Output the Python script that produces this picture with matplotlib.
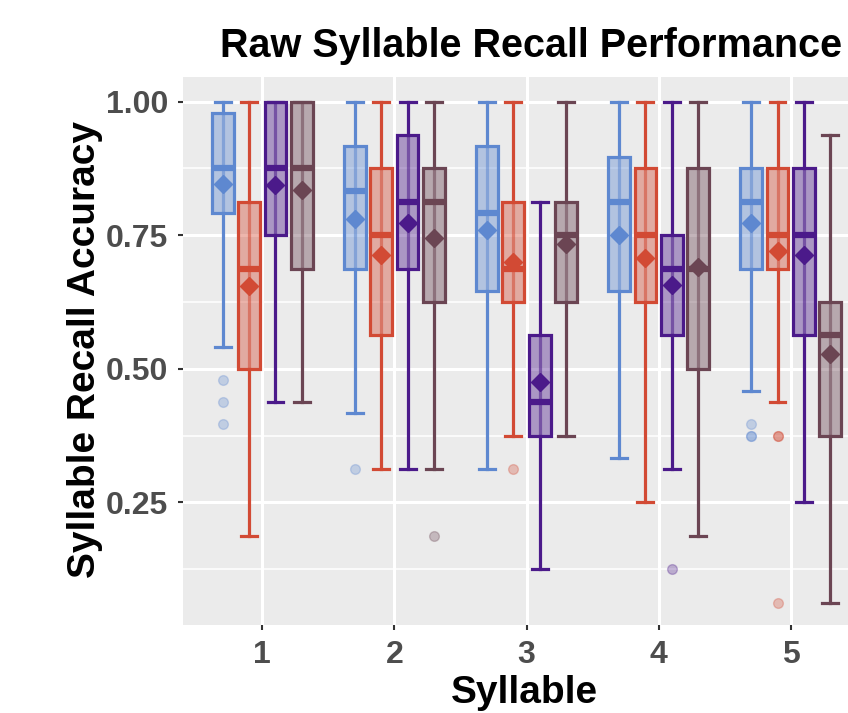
import matplotlib
matplotlib.use('Agg')
import matplotlib.pyplot as plt
from matplotlib.colors import to_rgba

plt.rcParams['font.family'] = ['Liberation Sans', 'DejaVu Sans']

syllables = [1, 2, 3, 4, 5]
group_colors = ['#5e88d0', '#d24a34', '#4b1a8a', '#6b4553']
offsets = [-0.3, -0.1, 0.1, 0.3]

# box statistics per group (one value per syllable)
blue_lo = [0.5417, 0.4167, 0.3125, 0.3333, 0.4583]
blue_q1 = [0.7917, 0.6875, 0.6458, 0.6458, 0.6875]
blue_med = [0.875, 0.8333, 0.7917, 0.8125, 0.8125]
blue_q3 = [0.9792, 0.9167, 0.9167, 0.8958, 0.875]
blue_hi = [1.0, 1.0, 1.0, 1.0, 1.0]
blue_mean = [0.846, 0.780, 0.760, 0.750, 0.773]
blue_out = [[0.479, 0.4375, 0.396], [0.3125], [], [], [0.396, 0.375, 0.375]]

red_lo = [0.1875, 0.3125, 0.375, 0.25, 0.4375]
red_q1 = [0.5, 0.5625, 0.625, 0.625, 0.6875]
red_med = [0.6875, 0.75, 0.6875, 0.75, 0.75]
red_q3 = [0.8125, 0.875, 0.8125, 0.875, 0.875]
red_hi = [1.0, 1.0, 1.0, 1.0, 1.0]
red_mean = [0.655, 0.712, 0.700, 0.708, 0.720]
red_out = [[], [], [0.3125], [], [0.375, 0.375, 0.0625]]

purple_lo = [0.4375, 0.3125, 0.125, 0.3125, 0.25]
purple_q1 = [0.75, 0.6875, 0.375, 0.5625, 0.5625]
purple_med = [0.875, 0.8125, 0.4375, 0.6875, 0.75]
purple_q3 = [1.0, 0.9375, 0.5625, 0.75, 0.875]
purple_hi = [1.0, 1.0, 0.8125, 1.0, 1.0]
purple_mean = [0.843, 0.772, 0.476, 0.656, 0.713]
purple_out = [[], [], [], [0.125], []]

brown_lo = [0.4375, 0.3125, 0.375, 0.1875, 0.0625]
brown_q1 = [0.6875, 0.625, 0.625, 0.5, 0.375]
brown_med = [0.875, 0.8125, 0.75, 0.6875, 0.5625]
brown_q3 = [1.0, 0.875, 0.8125, 0.875, 0.625]
brown_hi = [1.0, 1.0, 1.0, 1.0, 0.9375]
brown_mean = [0.835, 0.745, 0.733, 0.690, 0.527]
brown_out = [[], [0.1875], [], [], []]

groups = [
    (blue_lo, blue_q1, blue_med, blue_q3, blue_hi, blue_mean, blue_out),
    (red_lo, red_q1, red_med, red_q3, red_hi, red_mean, red_out),
    (purple_lo, purple_q1, purple_med, purple_q3, purple_hi, purple_mean, purple_out),
    (brown_lo, brown_q1, brown_med, brown_q3, brown_hi, brown_mean, brown_out),
]

fig = plt.figure(figsize=(8.48, 7.13), dpi=100)
# panel is wider than the canvas on the right (reference is cropped there)
ax = fig.add_axes([183 / 848, 88 / 713, 687 / 848, 548 / 713])
ax.set_facecolor('#ebebeb')
for s in ax.spines.values():
    s.set_visible(False)

for (lo, q1, med, q3, hi, mean, out), c, off in zip(groups, group_colors, offsets):
    stats = []
    for i in range(len(syllables)):
        stats.append(dict(whislo=lo[i], q1=q1[i], med=med[i], q3=q3[i],
                          whishi=hi[i], mean=mean[i], fliers=out[i]))
    pos = [s + off for s in syllables]
    ax.bxp(stats, positions=pos, widths=0.165, capwidths=0.12,
           patch_artist=True, showmeans=True, zorder=3,
           boxprops=dict(facecolor=to_rgba(c, 0.4), edgecolor=c, linewidth=2.3),
           whiskerprops=dict(color=c, linewidth=2.3),
           capprops=dict(color=c, linewidth=2.3),
           medianprops=dict(color=c, linewidth=4.5, zorder=4),
           meanprops=dict(marker='D', markerfacecolor=c, markeredgecolor=c,
                          markersize=9, zorder=5),
           flierprops=dict(marker='o', markerfacecolor=c, markeredgecolor=c,
                           alpha=0.3, markersize=7))
    # errorbar line running through the box
    ax.vlines(pos, q1, q3, color=c, alpha=0.55, linewidth=2.3, zorder=3.5)

ax.set_xlim(0.4, 5.6)
ax.set_ylim(0.0206, 1.046)
ax.set_xticks(syllables)
ax.set_xticklabels([str(s) for s in syllables])
ax.set_yticks([0.25, 0.5, 0.75, 1.0])
ax.set_yticklabels(['0.25', '0.50', '0.75', '1.00'])
ax.set_yticks([0.125, 0.375, 0.625, 0.875], minor=True)
ax.grid(True, which='major', color='white', linewidth=2.2, zorder=0)
ax.grid(True, which='minor', axis='y', color='white', linewidth=1.1, zorder=0)
ax.set_axisbelow(True)
ax.tick_params(which='major', length=3.5, width=1.5, color='#333333',
               labelsize=23, labelcolor='#4d4d4d', pad=7)
ax.tick_params(which='minor', length=0)
for lab in ax.get_xticklabels() + ax.get_yticklabels():
    lab.set_fontweight('bold')

fig.text(531 / 848, 1 - 57 / 713, 'Raw Syllable Recall Performance',
         ha='center', va='baseline', fontsize=28.5, fontweight='bold')
fig.text(524 / 848, 1 - 703 / 713, 'Syllable', ha='center', va='baseline',
         fontsize=28, fontweight='bold')
fig.text(85 / 848, 1 - 350 / 713, 'Syllable Recall Accuracy', rotation=90,
         ha='center', va='center', fontsize=28, fontweight='bold')

fig.savefig('out.png', dpi=100)
